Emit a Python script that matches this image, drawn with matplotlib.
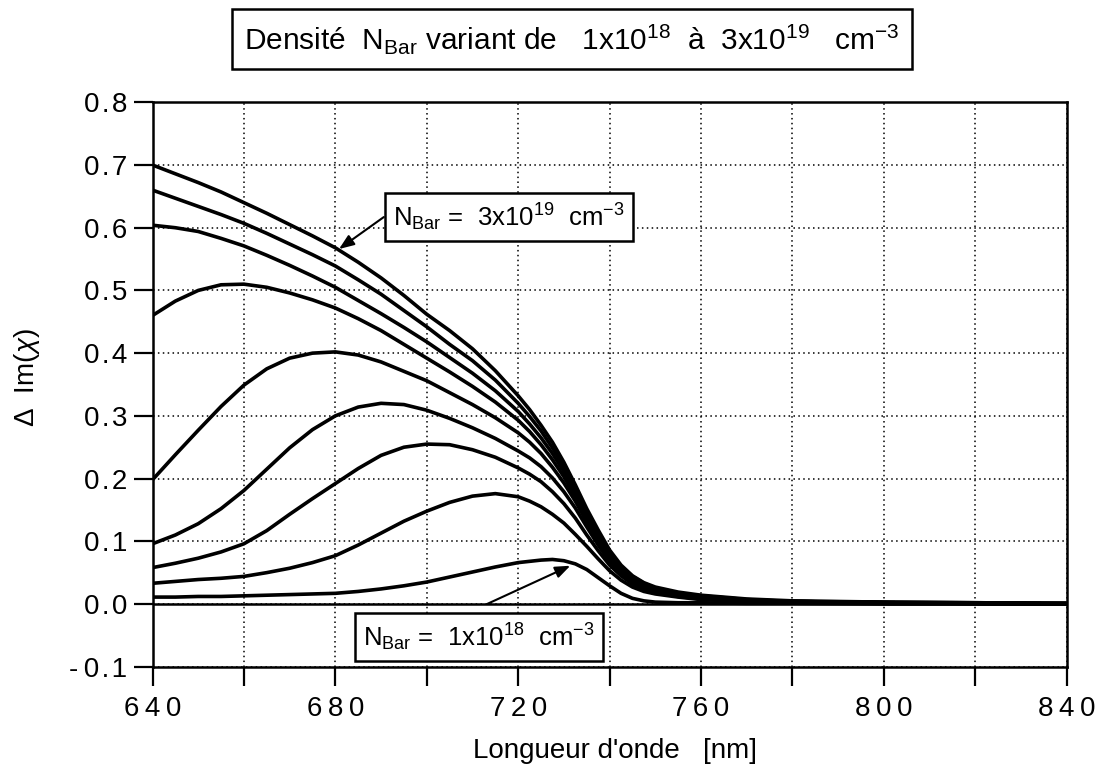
import numpy as np
import matplotlib
matplotlib.use('Agg')
import matplotlib.pyplot as plt
from matplotlib import font_manager
from matplotlib.ticker import FixedLocator

# ---------------- data ----------------
wavelength = [640, 645, 650, 655, 660, 665, 670, 675, 680, 685, 690, 695, 700,
              705, 710, 715, 720, 722.5, 725, 727.5, 730, 732.5, 735, 737.5, 740,
              742.5, 745, 747.5, 750, 755, 760, 770, 780, 800, 820, 840]

c1 = [0.700, 0.686, 0.672, 0.657, 0.640, 0.623, 0.605, 0.587, 0.568, 0.545, 0.520, 0.492, 0.462,
      0.436, 0.407, 0.372,
      0.332, 0.310, 0.285, 0.258, 0.226, 0.190, 0.152, 0.118, 0.086, 0.062, 0.045, 0.034, 0.027,
      0.019, 0.014, 0.008, 0.005, 0.003, 0.002, 0.001]
c2 = [0.660, 0.647, 0.634, 0.621, 0.607, 0.591, 0.574, 0.557, 0.539, 0.517, 0.494, 0.468, 0.442,
      0.414, 0.388, 0.357,
      0.320, 0.299, 0.276, 0.249, 0.219, 0.184, 0.147, 0.113, 0.083, 0.060, 0.044, 0.033, 0.025,
      0.017, 0.013, 0.007, 0.004, 0.003, 0.002, 0.001]
c3 = [0.604, 0.600, 0.594, 0.583, 0.571, 0.556, 0.540, 0.523, 0.505, 0.484, 0.463, 0.441, 0.418,
      0.393, 0.368, 0.340,
      0.307, 0.287, 0.265, 0.240, 0.211, 0.178, 0.142, 0.109, 0.080, 0.058, 0.042, 0.031, 0.024,
      0.016, 0.012, 0.006, 0.004, 0.002, 0.001, 0.001]
c4 = [0.460, 0.483, 0.500, 0.509, 0.510, 0.505, 0.496, 0.485, 0.472, 0.455, 0.436, 0.414, 0.392,
      0.370, 0.347, 0.322,
      0.293, 0.275, 0.254, 0.230, 0.203, 0.171, 0.137, 0.105, 0.077, 0.056, 0.040, 0.030, 0.022,
      0.015, 0.011, 0.006, 0.004, 0.002, 0.001, 0.001]
c5 = [0.198, 0.238, 0.277, 0.315, 0.349, 0.375, 0.392, 0.400, 0.402, 0.397, 0.386, 0.371, 0.356,
      0.337, 0.318, 0.297,
      0.273, 0.258, 0.240, 0.218, 0.193, 0.164, 0.131, 0.100, 0.073, 0.053, 0.038, 0.028, 0.021,
      0.014, 0.010, 0.006, 0.004, 0.002, 0.001, 0.000]
c6 = [0.096, 0.110, 0.128, 0.152, 0.181, 0.215, 0.249, 0.278, 0.300, 0.314, 0.320, 0.318, 0.309,
      0.296, 0.281, 0.264,
      0.244, 0.233, 0.219, 0.201, 0.179, 0.153, 0.123, 0.094, 0.068, 0.049, 0.035, 0.026, 0.020,
      0.013, 0.009, 0.005, 0.003, 0.002, 0.001, 0.000]
c7 = [0.058, 0.065, 0.073, 0.083, 0.096, 0.117, 0.143, 0.168, 0.192, 0.216, 0.237, 0.250, 0.255,
      0.254, 0.246, 0.234,
      0.217, 0.207, 0.195, 0.179, 0.160, 0.137, 0.110, 0.085, 0.062, 0.045, 0.032, 0.024, 0.018,
      0.012, 0.008, 0.005, 0.003, 0.002, 0.001, 0.000]
c8 = [0.033, 0.036, 0.039, 0.041, 0.044, 0.050, 0.057, 0.066, 0.077, 0.094, 0.113, 0.132, 0.148,
      0.162, 0.172, 0.176,
      0.171, 0.164, 0.155, 0.143, 0.129, 0.111, 0.092, 0.072, 0.053, 0.038, 0.027, 0.020, 0.016,
      0.011, 0.007, 0.004, 0.003, 0.001, 0.001, 0.000]
c9 = [0.011, 0.011, 0.012, 0.012, 0.013, 0.014, 0.015, 0.016, 0.017, 0.020, 0.024, 0.029, 0.035,
      0.043, 0.051, 0.059,
      0.066, 0.068, 0.070, 0.071, 0.069, 0.064, 0.055, 0.042, 0.029, 0.017, 0.009, 0.005, 0.003,
      0.002, 0.002, 0.001, 0.001, 0.000, 0.000, 0.000]

series = [c1, c2, c3, c4, c5, c6, c7, c8, c9]

x_major = [640, 680, 720, 760, 800, 840]
x_minor = [660, 700, 740, 780, 820]
y_ticks = [-0.1, 0.0, 0.1, 0.2, 0.3, 0.4, 0.5, 0.6, 0.7, 0.8]

title_text = r"Densité  N$_{\mathrm{Bar}}$ variant de   1x10$^{18}$  à  3x10$^{19}$   cm$^{-3}$"
box_hi_text = r"N$_{\mathrm{Bar}}$ =  3x10$^{19}$  cm$^{-3}$"
box_lo_text = r"N$_{\mathrm{Bar}}$ =  1x10$^{18}$  cm$^{-3}$"
xlabel_text = "Longueur d'onde   [nm]"
ylabel_text = r"$\Delta$  Im($\chi$)"

# ---------------- fonts ----------------
names = {f.name for f in font_manager.fontManager.ttflist}
base = 'Liberation Sans' if 'Liberation Sans' in names else 'DejaVu Sans'
narrow = 'Liberation Sans Narrow' if 'Liberation Sans Narrow' in names else base
plt.rcParams['font.family'] = [base, 'DejaVu Sans']
plt.rcParams['mathtext.fontset'] = 'custom'
plt.rcParams['mathtext.rm'] = base
plt.rcParams['mathtext.it'] = base + ':italic'
plt.rcParams['mathtext.bf'] = base + ':bold'

W, H = 1101, 772
fig = plt.figure(figsize=(W / 100, H / 100), dpi=100)
ax = fig.add_axes([152.5 / W, 1 - 666.7 / H, 914.2 / W, 564.4 / H])

for s in series:
    ax.plot(wavelength, s, color='black', lw=2.6, solid_joinstyle='round',
            solid_capstyle='butt', zorder=3)

ax.axhline(0.0, color='black', lw=1.8, zorder=2)

ax.set_xlim(640, 840)
ax.set_ylim(-0.1, 0.8)

thin = '\u2009'
hair = '\u200a'
ax.xaxis.set_major_locator(FixedLocator(x_major))
ax.xaxis.set_minor_locator(FixedLocator(x_minor))
ax.set_xticklabels([thin.join(str(v)) for v in x_major])
ax.yaxis.set_major_locator(FixedLocator(y_ticks))
ylabels = []
for v in y_ticks:
    s = f"{v:.1f}"
    if s.startswith('-'):
        s = '-' + thin + hair.join(s[1:])
    else:
        s = hair.join(s)
    ylabels.append(s)
ax.set_yticklabels(ylabels)

ax.tick_params(axis='both', which='both', direction='out', length=14, width=1.6,
               labelsize=20, color='black')
ax.tick_params(axis='x', which='both', pad=7)
ax.tick_params(axis='y', which='both', pad=4)
ax.tick_params(top=False, right=False)

ax.grid(True, which='both', linestyle=(0, (1, 2.2)), lw=1.1, color='black')
ax.set_axisbelow(True)
for s in ax.spines.values():
    s.set_linewidth(1.8)

# annotations
ax.text(718.0, 0.617, box_hi_text, fontsize=18.5, ha='center', va='center', zorder=5,
        bbox=dict(boxstyle='square,pad=0.32', fc='white', ec='black', lw=1.8))
ax.annotate('', xy=(680.8, 0.566), xytext=(690.6, 0.617),
            arrowprops=dict(arrowstyle='-|>,head_length=0.9,head_width=0.35',
                            lw=1.5, color='black', shrinkA=0, shrinkB=0), zorder=6)

ax.text(711.4, -0.053, box_lo_text, fontsize=18.5, ha='center', va='center', zorder=5,
        bbox=dict(boxstyle='square,pad=0.32', fc='white', ec='black', lw=1.8))
ax.annotate('', xy=(731.4, 0.061), xytext=(713.2, 0.0),
            arrowprops=dict(arrowstyle='-|>,head_length=0.9,head_width=0.35',
                            lw=1.5, color='black', shrinkA=0, shrinkB=0), zorder=6)

fig.text(572 / W, 1 - 39 / H, title_text, fontsize=21.5, family=[narrow, 'DejaVu Sans'],
         ha='center', va='center',
         bbox=dict(boxstyle='square,pad=0.42', fc='white', ec='black', lw=1.8))

fig.text(615 / W, 1 - 751 / H, xlabel_text, fontsize=20, ha='center', va='center')
fig.text(27 / W, 1 - 378 / H, ylabel_text, fontsize=20, ha='center', va='center',
         rotation=90)

fig.savefig('out.png', dpi=100)
